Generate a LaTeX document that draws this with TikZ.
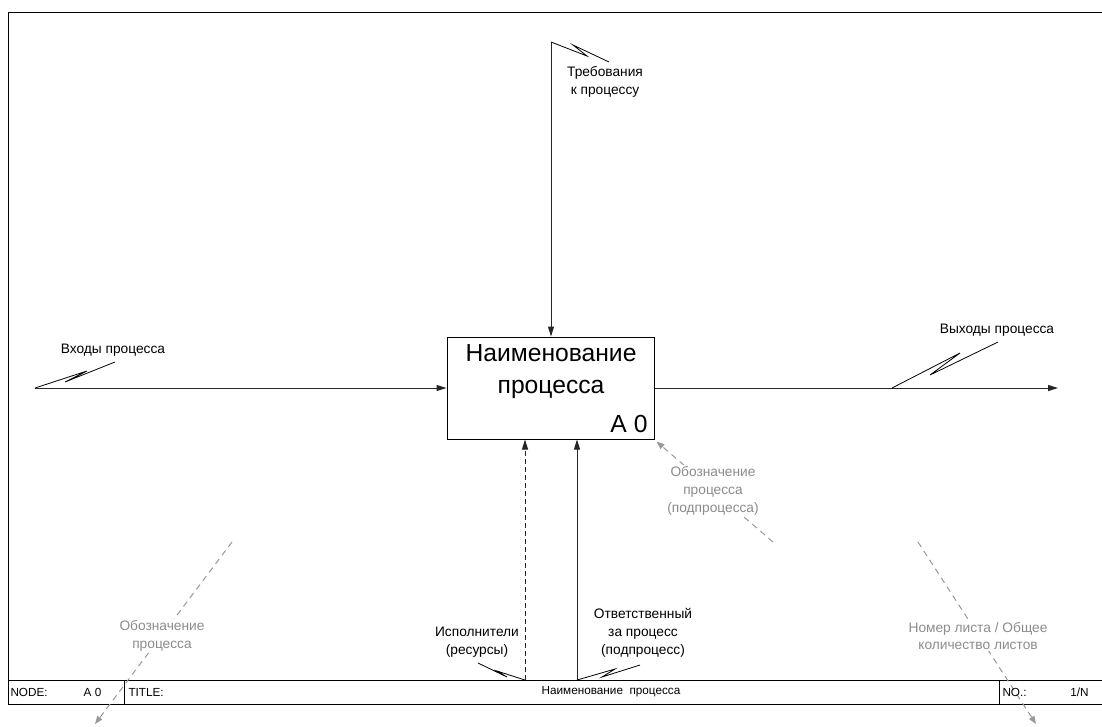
\documentclass[tikz,border=0pt]{standalone}
\usepackage{fontspec}
\setmainfont{Liberation Sans}
\usetikzlibrary{arrows.meta}
\begin{document}
\begin{tikzpicture}[x=0.75pt,y=-0.75pt, line width=0.75pt,
  flow/.style={draw=black!85, -{Triangle[length=7.5pt,width=4.5pt]}},
  sq/.style={draw=black, line width=0.6pt},
  lbl/.style={font=\fontsize{10.3}{13.3}\selectfont, align=center, inner sep=1pt},
  note/.style={lbl, text=black!45, fill=white},
  noteline/.style={draw=black!40, dash pattern=on 4.5pt off 3.5pt, -{Triangle[length=6pt,width=4.5pt]}},
  cell/.style={font=\fontsize{8.8}{10}\selectfont, inner sep=0pt, anchor=west},
  bigtxt/.style={font=\fontsize{18.5}{24}\selectfont, align=center, inner sep=0pt}
]
\useasboundingbox (0,0) rectangle (1102,726);
\fill[white] (0,0) rectangle (1102,726);
% frame and bottom bar
\draw (1104,12) -- (8,12) -- (8,704) -- (1104,704);
\draw (8,680) -- (1104,680);
\draw (124,680) -- (124,704);
\draw (999,680) -- (999,704);
% process box
\node (box) [draw, inner sep=0pt, minimum width=155.25pt, minimum height=76.5pt] at (550.5,388) {};
\node (boxtitle) [bigtxt] at (551,372) {Наименование\\процесса};
\node (boxid) [bigtxt, anchor=base east] at (648,432) {A 0};
% connectors
\coordinate (inL) at (35,388);
\coordinate (outR) at (1058,388);
\coordinate (ctrlT) at (551,42);
\coordinate (mechA) at (525,680);
\coordinate (mechB) at (577,680);
\draw[flow] (inL) -- (box.west);
\draw[flow] (box.east) -- (outR);
\draw[flow] (ctrlT) -- (ctrlT |- box.north);
\draw[flow, dash pattern=on 3.5pt off 2.5pt] (mechA) -- (mechA |- box.south);
\draw[flow] (mechB) -- (mechB |- box.south);
% squiggles
\draw[sq] (ctrlT) -- (587,56) -- (573,45) -- (609,62);
\draw[sq] (inL) -- (87,371) -- (65,382) -- (115,362);
\draw[sq] (892,388) -- (960,353) -- (930,375) -- (998,342);
\draw[sq] (mechA) -- (497,671) -- (507,677) -- (478,663);
\draw[sq] (mechB) -- (615,669) -- (602,677) -- (640,665);
% labels
\node (lctrl) [lbl] at (605,82) {Требования\\к процессу};
\node (lin) [lbl] at (113,350) {Входы процесса};
\node (lout) [lbl] at (997,330) {Выходы процесса};
\node (lmechA) [lbl] at (477,642) {Исполнители\\(ресурсы)};
\node (lmechB) [lbl] at (643,633) {Ответственный\\за процесс\\(подпроцесс)};
% gray notes
\coordinate (n1s) at (773,542);
\coordinate (n2s) at (232,542);
\coordinate (n2e) at (95,724);
\coordinate (n3s) at (918,542);
\coordinate (n3e) at (1036,724);
\draw[noteline] (n1s) -- ([shift={(2,2)}]box.south east);
\draw[noteline] (n2s) -- (n2e);
\draw[noteline] (n3s) -- (n3e);
\node (n1) [note] at (713,491) {Обозначение\\процесса\\(подпроцесса)};
\node (n2) [note] at (162,636) {Обозначение\\процесса};
\node (n3) [note] at (978,636) {Номер листа / Общее\\количество листов};
% bottom bar texts
\node (nodeL) [cell] at (10,692) {NODE:};
\node (nodeV) [cell, anchor=center] at (92.5,692) {A 0};
\node (titleL) [cell] at (128,692) {TITLE:};
\node (titleV) [cell, anchor=center] at (611,692) {Наименование\ \ процесса};
\node (noL) [cell] at (1002,692) {NO.:};
\node (noV) [cell, anchor=east] at (1089,692) {1/N};
\end{tikzpicture}
\end{document}
